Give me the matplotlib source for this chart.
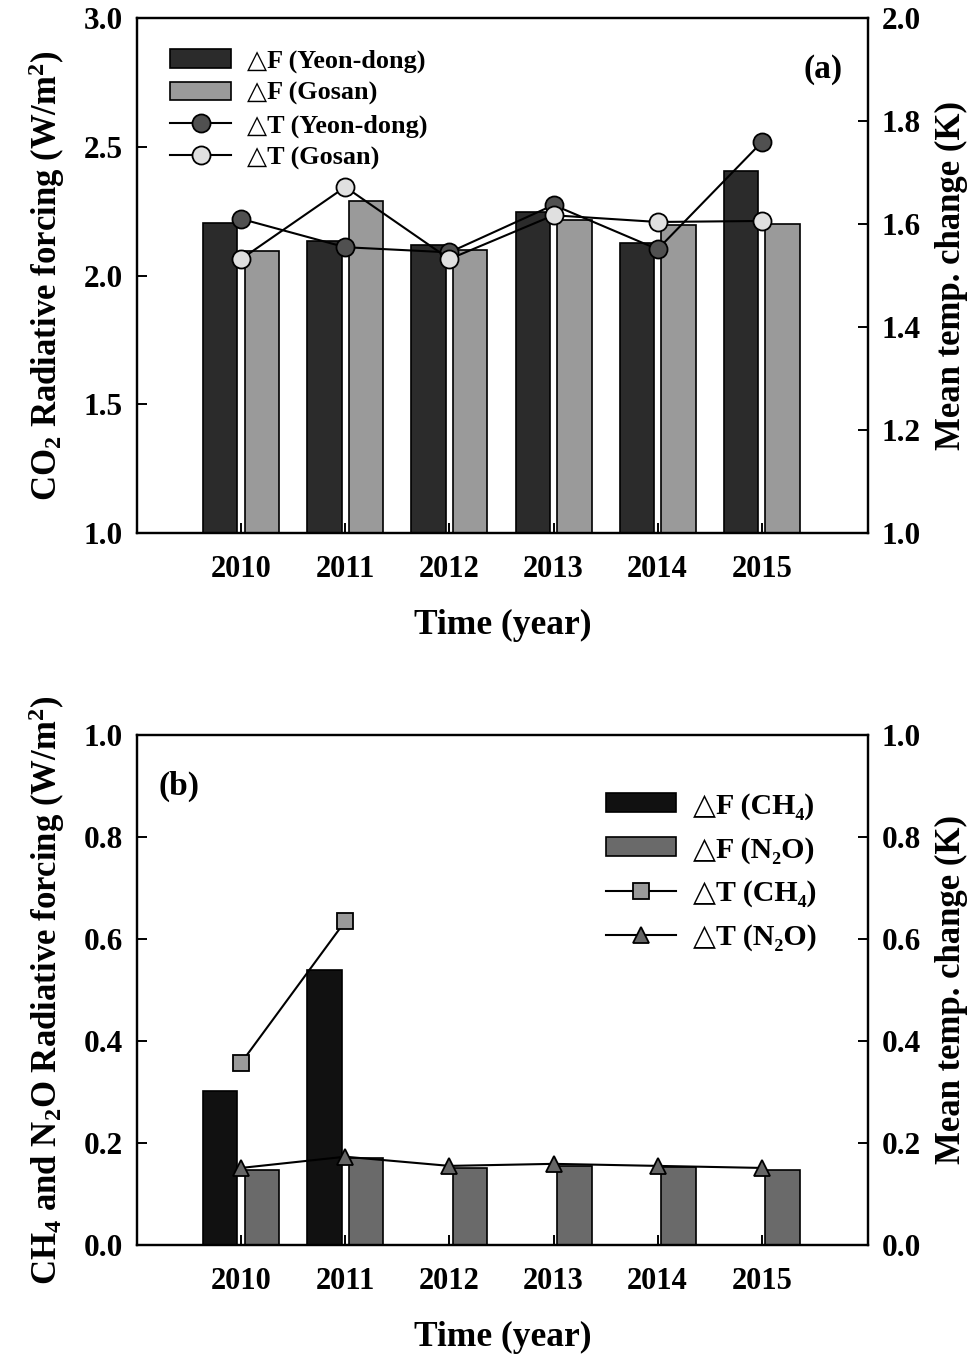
import numpy as np
import matplotlib
matplotlib.use('Agg')
import matplotlib.pyplot as plt

plt.rcParams['font.family'] = ['Liberation Serif', 'DejaVu Serif']
plt.rcParams['font.weight'] = 'bold'
plt.rcParams['axes.labelweight'] = 'bold'
plt.rcParams['mathtext.fontset'] = 'custom'
plt.rcParams['mathtext.rm'] = 'Liberation Serif:bold'
plt.rcParams['mathtext.it'] = 'Liberation Serif:bold'
plt.rcParams['mathtext.bf'] = 'Liberation Serif:bold'
plt.rcParams['mathtext.default'] = 'rm'

years = ['2010', '2011', '2012', '2013', '2014', '2015']

# (a) CO2 radiative forcing (W/m2) and mean temperature change (K)
f_yeondong = [2.204, 2.134, 2.120, 2.247, 2.126, 2.406]
f_gosan = [2.097, 2.290, 2.100, 2.215, 2.196, 2.200]
t_yeondong = [1.610, 1.555, 1.545, 1.637, 1.551, 1.759]
t_gosan = [1.532, 1.672, 1.532, 1.617, 1.604, 1.606]

# (b) CH4 / N2O radiative forcing and mean temperature change
f_ch4 = [0.302, 0.539]
f_n2o = [0.147, 0.170, 0.151, 0.155, 0.153, 0.147]
t_ch4 = [0.357, 0.635]
t_n2o = [0.151, 0.173, 0.155, 0.159, 0.155, 0.151]

x = np.arange(len(years))
w = 0.33
off = 0.2
D = '\u25b3'


def style(ax, axr):
    for a in (ax, axr):
        for s in a.spines.values():
            s.set_linewidth(1.6)
    ax.tick_params(axis='y', direction='in', length=7, width=1.4, labelsize=22.5, pad=10)
    axr.tick_params(axis='y', direction='in', length=7, width=1.4, labelsize=22.5, pad=10)
    ax.tick_params(axis='x', direction='in', length=7, width=1.4, labelsize=22, pad=16)
    ax.set_xticks(x)
    ax.set_xticklabels(years)
    ax.set_xlim(-1, 6.02)
    ax.set_xlabel('Time (year)', fontsize=25.5, labelpad=18)


fig = plt.figure(figsize=(9.75, 13.56), dpi=100)

# ---- panel (a)
ax = fig.add_axes([0.1405, 0.6069, 0.7498, 0.3798])
axr = ax.twinx()
b1 = ax.bar(x - off, f_yeondong, w, color='#2b2b2b', edgecolor='black', linewidth=1.2)
b2 = ax.bar(x + off, f_gosan, w, color='#9a9a9a', edgecolor='black', linewidth=1.2)
ax.set_ylim(1.0, 3.0)
ax.set_yticks([1.0, 1.5, 2.0, 2.5, 3.0])
axr.set_ylim(1.0, 2.0)
axr.set_yticks([1.0, 1.2, 1.4, 1.6, 1.8, 2.0])
l1, = axr.plot(x, t_yeondong, '-o', color='black', lw=1.5, ms=13,
               mfc='#505050', mec='black', mew=1.3)
l2, = axr.plot(x, t_gosan, '-o', color='black', lw=1.5, ms=13,
               mfc='#e0e0e0', mec='black', mew=1.3)
style(ax, axr)
ax.set_ylabel('CO$_2$ Radiative forcing (W/m$^2$)', fontsize=25, labelpad=12)
axr.set_ylabel('Mean temp. change (K)', fontsize=25, labelpad=10)
ax.text(0.965, 0.9, '(a)', transform=ax.transAxes, fontsize=24, ha='right', va='center')
axr.legend([b1, b2, l1, l2],
           [D + 'F (Yeon-dong)', D + 'F (Gosan)', D + 'T (Yeon-dong)', D + 'T (Gosan)'],
           loc='upper left', bbox_to_anchor=(0.013, 0.985), frameon=False,
           fontsize=18.8, handlelength=2.35, handleheight=0.7, labelspacing=0.33,
           handletextpad=0.6)

# ---- panel (b)
bx = fig.add_axes([0.1405, 0.0819, 0.7498, 0.3761])
bxr = bx.twinx()
c1 = bx.bar(x[:len(f_ch4)] - off, f_ch4, w, color='#111111', edgecolor='black', linewidth=1.2)
c2 = bx.bar(x + off, f_n2o, w, color='#6a6a6a', edgecolor='black', linewidth=1.2)
bx.set_ylim(0, 1.0)
bx.set_yticks(np.arange(0, 1.01, 0.2))
bxr.set_ylim(0, 1.0)
bxr.set_yticks(np.arange(0, 1.01, 0.2))
m1, = bxr.plot(x[:len(t_ch4)], t_ch4, '-s', color='black', lw=1.5, ms=11,
               mfc='#9a9a9a', mec='black', mew=1.3)
m2, = bxr.plot(x, t_n2o, '-^', color='black', lw=1.5, ms=12,
               mfc='#666666', mec='black', mew=1.3)
style(bx, bxr)
bx.set_ylabel('CH$_4$ and N$_2$O Radiative forcing (W/m$^2$)', fontsize=25, labelpad=12)
bxr.set_ylabel('Mean temp. change (K)', fontsize=25, labelpad=10)
bx.text(0.03, 0.9, '(b)', transform=bx.transAxes, fontsize=24, ha='left', va='center')
bxr.legend([c1, c2, m1, m2],
           [D + 'F (CH\u2084)', D + 'F (N\u2082O)', D + 'T (CH\u2084)', D + 'T (N\u2082O)'],
           loc='upper left', bbox_to_anchor=(0.605, 0.94), frameon=False,
           fontsize=21.5, handlelength=2.35, handleheight=0.6, labelspacing=0.55,
           handletextpad=0.55)

fig.savefig('out.png', dpi=100)
